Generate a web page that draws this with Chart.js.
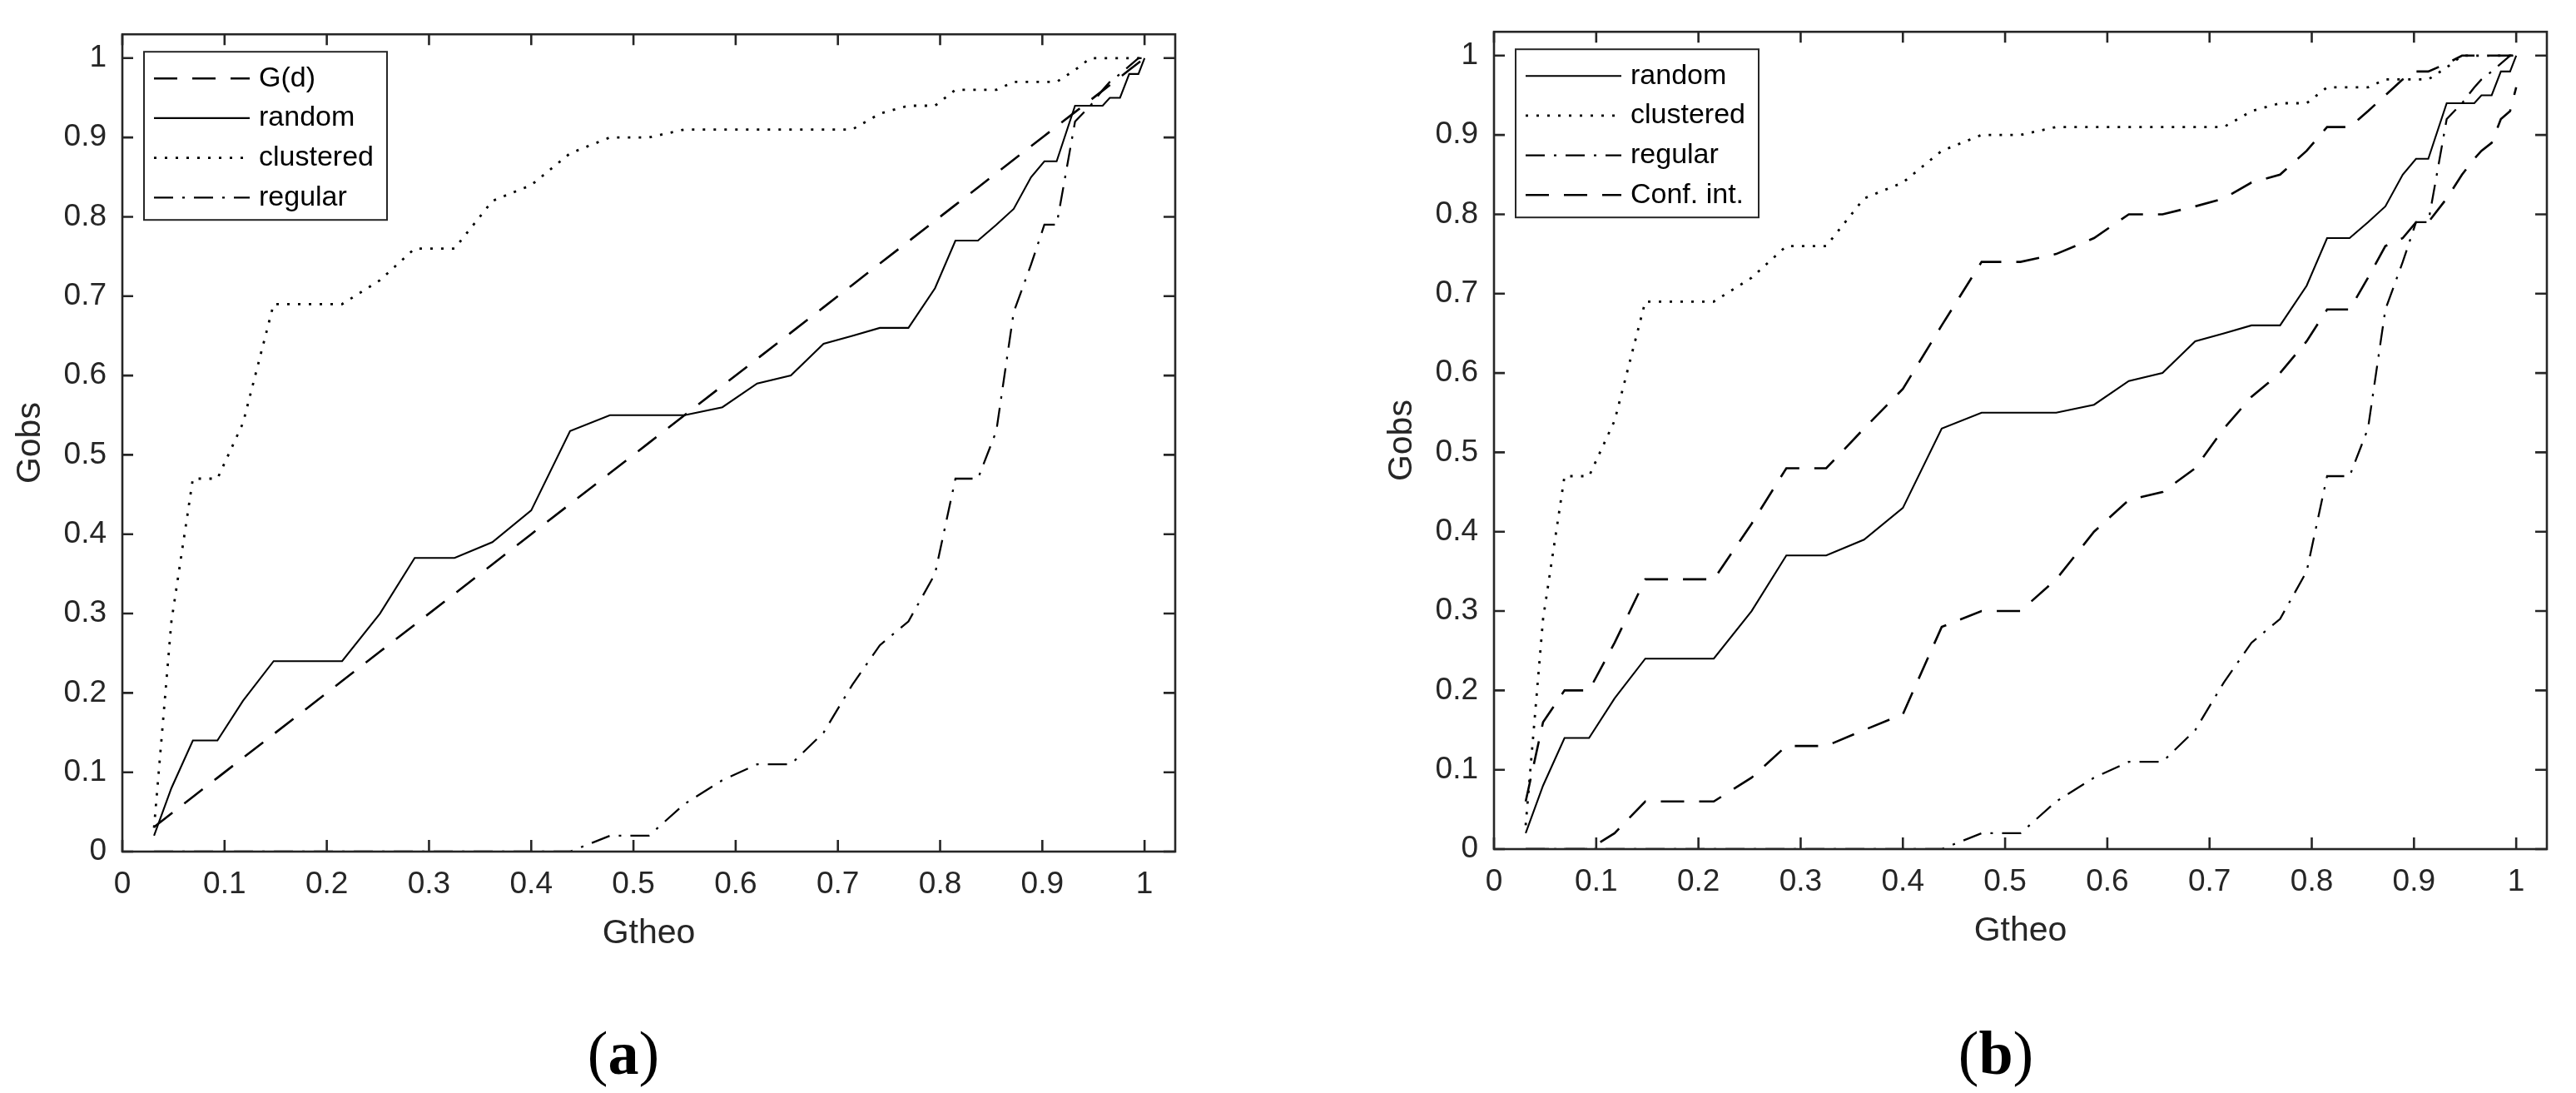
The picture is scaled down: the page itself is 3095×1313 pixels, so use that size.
<!DOCTYPE html>
<html>
<head>
<meta charset="utf-8">
<script src="https://cdn.jsdelivr.net/npm/chart.js@4.4.1/dist/chart.umd.min.js"></script>
<style>
  html, body { margin: 0; padding: 0; background: #fff; }
  body { width: 3095px; height: 1313px; position: relative; overflow: hidden; }
  .panel { position: absolute; }
  .cap { position: absolute; font-family: "Liberation Serif", "Times New Roman", serif; font-size: 74px; line-height: 1; color: #000; transform: translateX(-50%); white-space: nowrap; }
</style>
</head>
<body>
<div class="panel" style="left:0;top:0"><canvas id="chartA" width="1447" height="1146"></canvas></div>
<div class="panel" style="left:1648px;top:-3px"><canvas id="chartB" width="1447" height="1146"></canvas></div>
<div class="cap" style="left:749px;top:1228px">(<b>a</b>)</div>
<div class="cap" style="left:2398px;top:1228px">(<b>b</b>)</div>
<script>
// theoretical G at each distance step (shared x for every curve)
const gtheo = [0.031, 0.048, 0.069, 0.093, 0.118, 0.148, 0.215, 0.252, 0.286, 0.325,
  0.362, 0.400, 0.438, 0.477, 0.515, 0.550, 0.587, 0.621, 0.654, 0.686,
  0.714, 0.741, 0.769, 0.795, 0.815, 0.837, 0.855, 0.872, 0.889, 0.902,
  0.914, 0.932, 0.947, 0.959, 0.966, 0.976, 0.985, 0.994, 1.000];

const randomObs = [0.02, 0.08, 0.14, 0.14, 0.19, 0.24, 0.24, 0.30, 0.37, 0.37,
  0.39, 0.43, 0.53, 0.55, 0.55, 0.55, 0.56, 0.59, 0.60, 0.64,
  0.65, 0.66, 0.66, 0.71, 0.77, 0.77, 0.79, 0.81, 0.85, 0.87,
  0.87, 0.94, 0.94, 0.94, 0.95, 0.95, 0.98, 0.98, 1.00];

const clusteredObs = [0.03, 0.29, 0.47, 0.47, 0.54, 0.69, 0.69, 0.72, 0.76, 0.76,
  0.82, 0.84, 0.88, 0.90, 0.90, 0.91, 0.91, 0.91, 0.91, 0.91,
  0.91, 0.93, 0.94, 0.94, 0.96, 0.96, 0.96, 0.97, 0.97, 0.97,
  0.97, 0.985, 1.00, 1.00, 1.00, 1.00, 1.00, 1.00, 1.00];

const regularObs = [0, 0, 0, 0, 0, 0, 0, 0, 0, 0,
  0, 0, 0, 0.02, 0.02, 0.06, 0.09, 0.11, 0.11, 0.15,
  0.21, 0.26, 0.29, 0.35, 0.47, 0.47, 0.53, 0.68, 0.74, 0.79,
  0.79, 0.92, 0.94, 0.96, 0.97, 0.98, 0.99, 1.00, 1.00];

const confUpper = [0.06, 0.16, 0.20, 0.20, 0.26, 0.34, 0.34, 0.41, 0.48, 0.48,
  0.53, 0.58, 0.66, 0.74, 0.74, 0.75, 0.77, 0.80, 0.80, 0.81,
  0.82, 0.84, 0.85, 0.88, 0.91, 0.91, 0.93, 0.95, 0.97, 0.98,
  0.98, 0.99, 1.00, 1.00, 1.00, 1.00, 1.00, 1.00, 1.00];

const confLower = [0, 0, 0, 0, 0.02, 0.06, 0.06, 0.09, 0.13, 0.13,
  0.15, 0.17, 0.28, 0.30, 0.30, 0.34, 0.40, 0.44, 0.45, 0.48,
  0.53, 0.57, 0.60, 0.64, 0.68, 0.68, 0.72, 0.76, 0.77, 0.79,
  0.79, 0.82, 0.85, 0.87, 0.88, 0.89, 0.92, 0.93, 0.96];

const tickValues = [0, 0.1, 0.2, 0.3, 0.4, 0.5, 0.6, 0.7, 0.8, 0.9, 1];
const tickLabels = ['0', '0.1', '0.2', '0.3', '0.4', '0.5', '0.6', '0.7', '0.8', '0.9', '1'];

const FONT = '"Liberation Sans", Arial, Helvetica, sans-serif';
const AXIS = '#262626';

const dash = { solid: [], dashed: [28, 18], dotted: [3, 10], dashdot: [23, 11, 3, 11] };

function pts(ys) {
  return gtheo.map((x, i) => ({ x: x, y: ys[i] }));
}

function series(label, ys, style, width, extra) {
  return Object.assign({
    label: label,
    data: pts(ys),
    borderColor: '#000',
    borderWidth: width,
    borderDash: dash[style],
    pointRadius: 0,
    tension: 0,
    fill: false
  }, extra || {});
}

// matlab style box with inward ticks on all four sides
const frame = {
  id: 'frame',
  afterDatasetsDraw(chart) {
    const ctx = chart.ctx, a = chart.chartArea;
    const xs = chart.scales.x, ys = chart.scales.y;
    ctx.save();
    ctx.strokeStyle = AXIS;
    ctx.lineWidth = 2.6;
    ctx.setLineDash([]);
    ctx.strokeRect(a.left, a.top, a.right - a.left, a.bottom - a.top);
    ctx.beginPath();
    tickValues.forEach(v => {
      const px = xs.getPixelForValue(v);
      ctx.moveTo(px, a.bottom); ctx.lineTo(px, a.bottom - 14);
      ctx.moveTo(px, a.top); ctx.lineTo(px, a.top + 13);
      const py = ys.getPixelForValue(v);
      ctx.moveTo(a.left, py); ctx.lineTo(a.left + 13, py);
      ctx.moveTo(a.right, py); ctx.lineTo(a.right - 14, py);
    });
    ctx.stroke();
    ctx.restore();
  }
};

// legend drawn inside the plot, upper left
const boxLegend = {
  id: 'boxLegend',
  afterDatasetsDraw(chart) {
    const ctx = chart.ctx, a = chart.chartArea;
    const items = chart.data.datasets.filter(d => !d.noLegend);
    const bx = a.left + 26, by = a.top + 21, bw = 292, bh = 202;
    ctx.save();
    ctx.fillStyle = '#fff';
    ctx.fillRect(bx, by, bw, bh);
    ctx.strokeStyle = AXIS;
    ctx.lineWidth = 2;
    ctx.strokeRect(bx, by, bw, bh);
    ctx.font = '34px ' + FONT;
    ctx.textBaseline = 'middle';
    items.forEach((d, i) => {
      const y = by + 32 + i * 47.7;
      ctx.beginPath();
      ctx.setLineDash(d.borderDash);
      ctx.lineWidth = d.borderWidth;
      ctx.strokeStyle = d.borderColor;
      ctx.moveTo(bx + 12, y);
      ctx.lineTo(bx + 127, y);
      ctx.stroke();
      ctx.setLineDash([]);
      ctx.fillStyle = '#000';
      ctx.fillText(d.label, bx + 138, y);
    });
    ctx.restore();
  }
};

function axisOpts(title, isX) {
  return {
    type: 'linear',
    min: 0,
    max: 1.03,
    grid: { display: false, drawTicks: false },
    border: { display: false },
    afterBuildTicks: s => { s.ticks = tickValues.map(v => ({ value: v })); },
    ticks: {
      color: AXIS,
      font: { family: FONT, size: 37 },
      padding: isX ? 18 : 19,
      maxRotation: 0,
      autoSkip: false,
      callback: (v, i) => tickLabels[i]
    },
    title: {
      display: true,
      text: title,
      color: AXIS,
      font: { family: FONT, size: 41 },
      padding: isX ? { top: 0, bottom: 0 } : { top: 12, bottom: 0 }
    },
    afterFit: s => { if (isX) s.height = 123; else s.width = 147; }
  };
}

function makeChart(id, datasets) {
  return new Chart(document.getElementById(id), {
    type: 'line',
    data: { datasets: datasets },
    options: {
      responsive: false,
      animation: false,
      devicePixelRatio: 1,
      layout: { padding: { top: 24, right: 35, left: 0, bottom: 0 } },
      plugins: { legend: { display: false }, tooltip: { enabled: false } },
      scales: { x: axisOpts('Gtheo', true), y: axisOpts('Gobs', false) }
    },
    plugins: [frame, boxLegend]
  });
}

makeChart('chartA', [
  series('G(d)', gtheo, 'dashed', 2.6),
  series('random', randomObs, 'solid', 2.1),
  series('clustered', clusteredObs, 'dotted', 2.8),
  series('regular', regularObs, 'dashdot', 2.3)
]);

makeChart('chartB', [
  series('random', randomObs, 'solid', 2.1),
  series('clustered', clusteredObs, 'dotted', 2.8),
  series('regular', regularObs, 'dashdot', 2.3),
  series('Conf. int.', confUpper, 'dashed', 2.6),
  series('Conf. int.', confLower, 'dashed', 2.6, { noLegend: true })
]);
</script>
</body>
</html>
